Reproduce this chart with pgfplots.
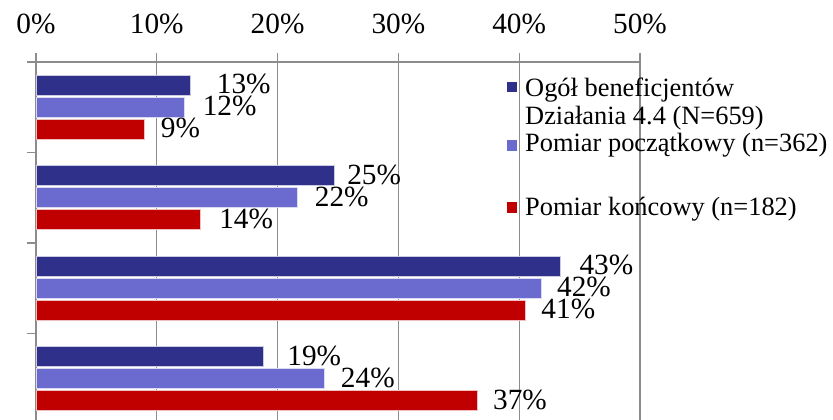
\documentclass[border=0pt]{standalone}
\usepackage{fontspec}
\setmainfont{Liberation Serif}
\usepackage{pgfplots}
\pgfplotsset{compat=1.18}
\usepackage{pgfplotstable}
\definecolor{c1}{HTML}{2E3089}
\definecolor{c2}{HTML}{6B6BCF}
\definecolor{c3}{HTML}{C00000}
\definecolor{gridgray}{HTML}{8C8C8C}
\newcommand{\bigf}{\fontsize{26.4}{30}\selectfont}
\newcommand{\labf}{\fontsize{29.3}{33}\selectfont}

\pgfplotstableread{
y x label dx
3 12.8 13 26
2 24.67 25 13
1 43.4 43 19
0 18.8 19 24
}\seriesA
\pgfplotstableread{
y x label dx
3 12.3 12 18
2 21.66 22 17
1 41.8 42 16
0 23.9 24 16
}\seriesB
\pgfplotstableread{
y x label dx
3 9.0 9 16
2 13.58 14 19
1 40.5 41 16
0 36.5 37 16
}\seriesC

\begin{document}
\begin{tikzpicture}
\begin{axis}[
 at={(36pt,0pt)}, anchor=south west,
 scale only axis, width=604pt, height=358pt,
 xbar, bar width=20pt,
 xmin=0, xmax=50, ymin=-0.456, ymax=3.5,
 axis x line*=top, axis y line*=left,
 xtick={0,10,20,30,40,50}, xticklabels={0\%,10\%,20\%,30\%,40\%,50\%},
 ytick={0.5,1.5,2.5,3.5}, yticklabels={},
 tick align=outside, major tick length=9pt,
 xmajorgrids, grid style={gridgray, line width=1.3pt},
 axis line style={gridgray, line width=1.3pt, -},
 tick style={gridgray, line width=1.3pt},
 ticklabel style={font=\labf},
 xticklabel style={anchor=base, yshift=19pt, inner sep=0pt},
 point meta=explicit symbolic,
 visualization depends on={\thisrow{dx}\as\dx},
 nodes near coords={\pgfplotspointmeta\%},
 nodes near coords style={font=\labf, black, anchor=west, inner sep=0pt, xshift=\dx pt, yshift=1pt},
 clip=false,
]
\addplot[fill=c1, draw=white!75!c1, line width=0.5pt, bar shift=22pt] table[x=x,y=y,meta=label]{\seriesA};
\addplot[fill=c2, draw=white!75!c2, line width=0.5pt, bar shift=0pt] table[x=x,y=y,meta=label]{\seriesB};
\addplot[fill=c3, draw=white!75!c3, line width=0.5pt, bar shift=-22pt] table[x=x,y=y,meta=label]{\seriesC};
\end{axis}
\fill[c1] (507pt,328pt) rectangle (517pt,338pt);
\fill[c2] (507pt,269pt) rectangle (517pt,280pt);
\fill[c3] (507pt,207pt) rectangle (517pt,218pt);
\node[anchor=base west, inner sep=0pt, font=\bigf] at (525pt,323pt) {Ogół beneficjentów};
\node[anchor=base west, inner sep=0pt, font=\bigf] at (525pt,295pt) {Działania 4.4 (N=659)};
\node[anchor=base west, inner sep=0pt, font=\bigf] at (525pt,268pt) {Pomiar początkowy (n=362)};
\node[anchor=base west, inner sep=0pt, font=\bigf] at (525pt,204.5pt) {Pomiar końcowy (n=182)};
\pgfresetboundingbox
\useasboundingbox (0,0) rectangle (833pt,420pt);
\end{tikzpicture}
\end{document}
